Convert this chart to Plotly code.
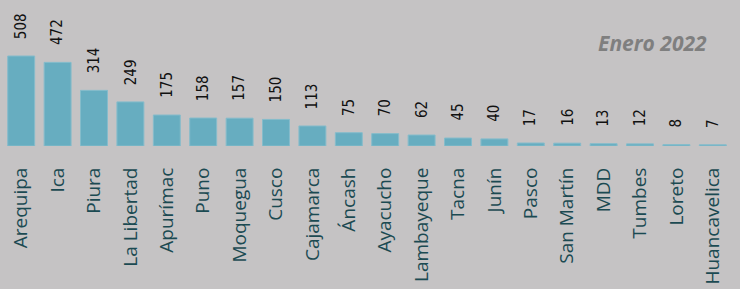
import plotly.graph_objects as go

regions = ["Arequipa", "Ica", "Piura", "La Libertad", "Apurímac", "Puno", "Moquegua",
           "Cusco", "Cajamarca", "Áncash", "Ayacucho", "Lambayeque", "Tacna", "Junín",
           "Pasco", "San Martín", "MDD", "Tumbes", "Loreto", "Huancavelica"]
values = [508, 472, 314, 249, 175, 158, 157, 150, 113, 75, 70, 62, 45, 40, 17, 16, 13, 12, 8, 7]
period_label = "Enero 2022"

BG = "#c5c3c4"
BAR = "#67adc0"

fig = go.Figure()
fig.add_trace(go.Bar(
    x=regions, y=values,
    marker=dict(color=BAR, line=dict(color="#86bccb", width=1)),
    hoverinfo="x+y",
))

for r, v in zip(regions, values):
    fig.add_annotation(
        x=r, y=v, text=str(v), showarrow=False,
        textangle=-90, xanchor="center", yanchor="bottom", yshift=15,
        font=dict(family="DejaVu Sans Condensed, sans-serif", size=15, color="#111111"),
    )

fig.add_annotation(
    xref="paper", yref="paper", x=0.970, y=0.705, xanchor="right", yanchor="middle",
    text="<b><i>" + period_label + "</i></b>", showarrow=False,
    font=dict(family="Open Sans, sans-serif", size=21, color="#7f7f7f"),
)

fig.update_layout(
    width=740, height=289,
    margin=dict(l=3, r=9, t=0, b=143, autoexpand=False),
    paper_bgcolor=BG, plot_bgcolor=BG,
    bargap=0.26,
    showlegend=False,
    font=dict(family="Open Sans, sans-serif"),
)
fig.update_xaxes(
    automargin=False,
    tickangle=-90, showgrid=False, showline=False, zeroline=False,
    ticks="outside", ticklen=13, tickcolor="rgba(0,0,0,0)",
    tickfont=dict(family="Open Sans, sans-serif", size=19, color="#1b4a52"),
)
fig.update_yaxes(automargin=False, range=[0, 824], visible=False, showgrid=False, zeroline=False)

fig.write_html(
    "out.html",
    config={"displayModeBar": False},
    post_script="document.body.style.margin='0';document.body.style.background='" + BG + "';",
)
